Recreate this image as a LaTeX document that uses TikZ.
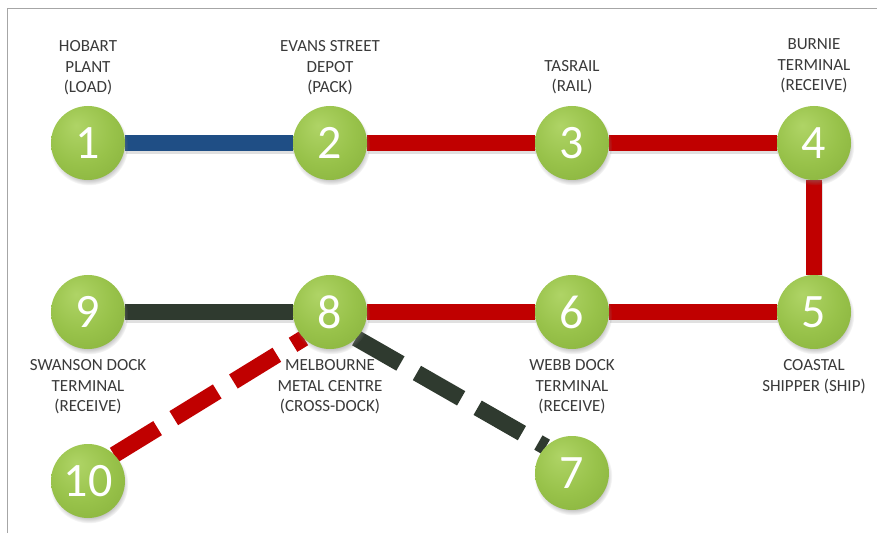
\documentclass[tikz,border=0pt]{standalone}
\usepackage{fontspec}
\setmainfont{Carlito}
\usetikzlibrary{shadows,backgrounds}

\definecolor{ballhi}{HTML}{AFD466}
\definecolor{ballmid}{HTML}{98C24A}
\definecolor{balllo}{HTML}{82AC38}
\definecolor{balledge}{HTML}{6C952A}
\definecolor{linkblue}{HTML}{1F4E85}
\definecolor{linkred}{HTML}{C00000}
\definecolor{linkdark}{HTML}{2F3A2F}
\definecolor{labelgray}{HTML}{3A3A3A}
\definecolor{framegray}{HTML}{A6A6A6}

\pgfdeclareradialshading{greenball}{\pgfpoint{-8bp}{12bp}}{%
  color(0bp)=(ballhi); color(22bp)=(ballmid); color(46bp)=(balllo); color(62bp)=(balledge)}

\pgfdeclarelayer{paper}
\pgfsetlayers{paper,background,main}

\tikzset{
  station/.style={circle, minimum size=74pt, inner sep=0pt, outer sep=0pt,
    shading=greenball, text=white, font=\fontsize{48}{48}\selectfont,
    circular drop shadow={shadow xshift=1pt, shadow yshift=-3pt,
      shadow scale=1.06, opacity=0.45}},
  stationlabel/.style={align=center, text=labelgray,
    font=\fontsize{17}{20.5}\selectfont, inner sep=0pt},
  link/.style={line width=16.5pt},
  dashlink/.style={line width=16.5pt, dash pattern=on 51pt off 19pt},
  linkshadow/.style={line width=16.5pt, draw=black, opacity=0.12,
    transform canvas={shift={(1pt,-2.5pt)}}}
}

\begin{document}
\begin{tikzpicture}[x=1pt,y=1pt]
  \useasboundingbox (0,0) rectangle (877,533);
  \begin{pgfonlayer}{paper}
    \fill[white] (0,0) rectangle (877,533);
    % frame edges
    \draw[framegray, line width=1.5pt] (7.5,0) -- (7.5,524.5) -- (877,524.5);
  \end{pgfonlayer}

  % stations
  \node[station] (n1)  at (88,390)  {1};
  \node[station] (n2)  at (330,390) {2};
  \node[station] (n3)  at (572,390) {3};
  \node[station] (n4)  at (814,390) {4};
  \node[station] (n5)  at (814,221) {5};
  \node[station] (n6)  at (572,221) {6};
  \node[station] (n8)  at (330,221) {8};
  \node[station] (n9)  at (88,221)  {9};
  \node[station] (n10) at (88,52)   {10};
  \node[station] (n7)  at (572,60)  {7};

  % station labels
  \node[stationlabel] (l1) at (88,465)  {HOBART\\PLANT\\(LOAD)};
  \node[stationlabel] (l2) at (330,465) {EVANS STREET\\DEPOT\\(PACK)};
  \node[stationlabel] (l3) at (572,456) {TASRAIL\\(RAIL)};
  \node[stationlabel] (l4) at (814,467) {BURNIE\\TERMINAL\\(RECEIVE)};
  \node[stationlabel] (l9) at (88,146)  {SWANSON DOCK\\TERMINAL\\(RECEIVE)};
  \node[stationlabel] (l8) at (330,146) {MELBOURNE\\METAL CENTRE\\(CROSS-DOCK)};
  \node[stationlabel] (l6) at (572,146) {WEBB DOCK\\TERMINAL\\(RECEIVE)};
  \node[stationlabel] (l5) at (814,156.5) {COASTAL\\SHIPPER (SHIP)};

  % connecting lines behind the stations
  \begin{scope}[on background layer]
    \draw[linkshadow] (n1) -- (n2);
    \draw[linkshadow] (n2) -- (n3);
    \draw[linkshadow] (n3) -- (n4);
    \draw[linkshadow] (n4) -- (n5);
    \draw[linkshadow] (n5) -- (n6);
    \draw[linkshadow] (n6) -- (n8);
    \draw[linkshadow] (n8) -- (n9);

    \draw[link, linkblue] (n1) -- (n2);
    \draw[link, linkred]  (n2) -- (n3);
    \draw[link, linkred]  (n3) -- (n4);
    \draw[link, linkred]  (n4) -- (n5);
    \draw[link, linkred]  (n5) -- (n6);
    \draw[link, linkred]  (n6) -- (n8);
    \draw[link, linkdark] (n8) -- (n9);

    \draw[dashlink, linkdark] (n8.south east) -- (n7.north west);
    \draw[dashlink, linkred]  (n10.north east) -- (n8.south west);
  \end{scope}
\end{tikzpicture}
\end{document}
